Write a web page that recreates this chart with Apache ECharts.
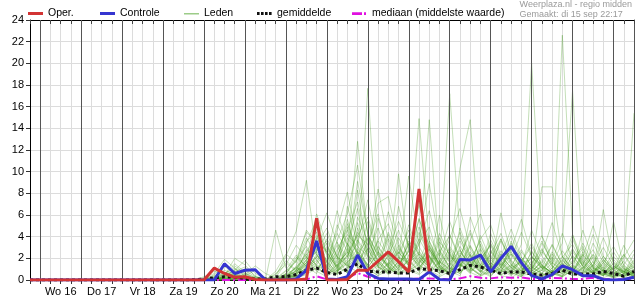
<!DOCTYPE html>
<html><head><meta charset="utf-8">
<script src="https://cdn.jsdelivr.net/npm/echarts/dist/echarts.min.js"></script>
<style>html,body{margin:0;padding:0;background:#fff}#c{width:635px;height:300px}</style>
</head><body><div id="c"></div>
<script>
// ---- data ----
const dayLabels = ["Wo 16","Do 17","Vr 18","Za 19","Zo 20","Ma 21","Di 22","Wo 23","Do 24","Vr 25","Za 26","Zo 27","Ma 28","Di 29"];
const dayLines = [0,24,48,72,96,120,144,168,192,216,240,264,288,312,336];
const yTicks = [0,2,4,6,8,10,12,14,16,18,20,22,24];
// hours since Wo 16 00:00
const times = [-6,0,6,12,18,24,30,36,42,48,54,60,66,72,78,84,90,96,102,108,114,120,126,132,138,144,150,156,162,168,174,180,186,192,198,204,210,216,222,228,234,240,246,252,258,264,270,276,282,288,294,300,306,312,318,324,330,336,342,348];
const oper = [0,0,0,0,0,0,0,0,0,0,0,0,0,0,0,0,0,0,1.1,0.6,0.25,0.3,0.05,0,0,0,0,0.1,5.7,0,0,0.05,0.9,0.9,1.75,2.6,1.7,0.75,8.4,0.8];
const controle = [0,0,0,0,0,0,0,0,0,0,0,0,0,0,0,0,0,0,0,1.5,0.6,0.9,0.95,0,0,0,0.1,0.9,3.6,0.1,0.05,0.3,2.3,0.6,0.15,0.1,0.1,0.1,0.05,0.75,0.05,0,1.9,1.85,2.3,0.75,2.0,3.1,1.6,0.4,0.1,0.5,1.3,0.95,0.4,0.4,0.05,0,0.05,0.25];
const gemiddelde = [0,0,0,0,0,0,0,0,0,0,0,0,0,0,0,0,0.02,0.1,0.2,0.3,0.25,0.15,0.1,0.1,0.3,0.3,0.5,0.9,1.1,0.7,0.5,1.0,1.5,0.8,0.75,0.75,0.65,0.65,1.05,0.95,0.85,0.6,0.95,1.35,1.2,0.9,0.6,0.75,0.75,0.55,0.45,0.6,0.9,0.55,0.55,0.55,0.8,0.6,0.35,0.8];
const mediaan = [0,0,0,0,0,0,0,0,0,0,0,0,0,0,0,0,0,0,0,0,0,0,0,0,0,0,0,0.05,0.35,0.05,0,0.2,0.65,0.3,0.1,0.1,0.05,0.05,0.15,0.15,0.1,0.05,0.15,0.35,0.2,0.15,0.25,0.2,0.25,0.1,0.1,0.2,0.15,0.1,0.1,0.2,0.1,0.05,0.05,0.1];
// ensemble members (Leden)
const memberTimes = [84,90,96,102,108,114,120,126,132,138,144,150,156,162,168,174,180,186,192,198,204,210,216,222,228,234,240,246,252,258,264,270,276,282,288,294,300,306,312,318,324,330,336,342,348];
const lid01 = [0,0, 0,0.3,1.2,0.8, 0.2,0,0,0.5, 1.8,0.9,2.4,3.1, 0.6,1.4,2.2,4.1, 3.3,1.2,0.8,2.6, 1.4,3.8,2.1,0.9, 1.6,2.8,1.1,0.4, 0.7,1.9,3.2,1.3, 0.5,0.9,2.4,1.2, 0.6,1.5,2.8,0.9, 0.3,0.8,1.4];
const lid02 = [0,0, 0.2,0.6,1.9,1.1, 0.4,0.1,0,0, 0.2,1.3,3.6,4.4, 1.2,0.5,6.8,3.2, 1.1,0.4,1.6,0.8, 2.9,14.9,3.4,1.2, 0.6,1.4,0.9,2.3, 1.1,0.4,0.2,0.8, 2.1,1.4,0.6,0.3, 0.9,1.7,0.5,0.2, 0.6,1.1,0.4];
const lid03 = [0,0.1, 0,0,0.4,2.0, 1.4,0.3,0,4.6, 1.1,0.3,1.2,2.1, 3.4,0.9,2.8,12.8, 4.1,1.3,0.5,1.1, 3.6,2.4,14.8,2.1, 0.8,3.1,1.6,0.7, 1.9,3.8,1.4,0.5, 0.9,3.4,1.8,0.8, 2.2,0.9,0.4,1.6, 0.7,0.3,0.9];
const lid04 = [0,0, 0,0,0.2,0.6, 0.3,0,0,0.3, 2.2,4.5,9.2,2.4, 1.1,2.8,4.6,2.2, 17.7,3.1,1.4,0.6, 1.3,4.4,2.2,0.8, 2.4,1.3,3.2,1.4, 0.6,2.1,1.2,0.4, 1.8,0.6,0.3,1.1, 2.6,1.3,0.7,0.4, 1.2,0.8,0.3];
const lid05 = [0,0, 0.1,0.4,0.9,0.5, 0.1,0,0,0, 0.4,0.8,1.6,5.2, 2.3,0.8,1.5,8.3, 2.6,7.1,7.7,3.4, 1.2,0.6,2.8,1.5, 17.2,4.2,1.1,0.5, 1.3,0.8,2.4,1.6, 0.7,8.6,8.6,2.1, 0.9,0.4,1.3,0.6, 0.2,0.5,1.0];
const lid06 = [0,0, 0,0.2,0.5,1.5, 0.7,0.2,0,0, 0,0.6,2.8,1.9, 0.4,1.7,3.9,2.5, 1.4,3.6,2.2,0.9, 4.1,2.7,1.3,6.0, 1.8,10.3,14.8,2.6, 0.9,6.2,2.3,1.1, 0.6,1.2,0.8,1.9, 0.7,0.3,0.9,1.4, 0.6,0.2,0.7];
const lid07 = [0,0, 0,0,0.1,0.3, 0.2,0,0,0, 0.5,1.1,0.7,3.3, 4.8,2.1,0.6,1.8, 5.4,2.4,1.1,0.5, 2.2,1.4,0.7,2.5, 1.1,0.6,1.8,3.6, 1.4,0.7,1.1,3.3, 20.0,4.1,1.3,0.8, 0.4,1.1,2.3,0.8, 0.4,0.9,0.3];
const lid08 = [0,0, 0.3,0.8,0.6,0.2, 0,0,0,0.2, 1.6,0.8,1.9,2.6, 1.3,3.2,1.1,2.4, 3.9,1.7,0.6,1.8, 9.6,3.1,1.4,0.6, 1.3,2.7,1.2,0.5, 0.8,1.6,0.7,0.3, 1.4,0.9,0.5,22.6, 4.2,1.1,0.6,1.8, 0.9,0.4,0.6];
const lid09 = [0,0, 0,0,0,0.1, 0.4,0.9,0.2,0, 0.3,0.6,2.2,1.4, 0.9,2.3,4.2,3.1, 2.2,1.6,0.9,2.1, 1.6,3.4,4.9,1.7, 0.6,2.1,4.6,1.8, 0.7,2.7,1.4,0.8, 1.1,2.6,1.5,3.4, 17.5,2.1,0.9,0.5, 1.3,0.7,0.4];
const lid10 = [0,0, 0,0.1,0.7,0.4, 0.1,0,0,0, 0.1,0.5,1.4,3.9, 2.6,1.1,0.7,5.8, 3.6,1.9,0.8,1.4, 3.3,1.9,0.8,1.2, 2.6,1.4,0.6,1.9, 3.2,1.1,0.5,0.9, 2.2,1.1,0.4,0.8, 1.6,2.9,1.2,0.6, 0.3,1.8,15.4];
const lid11 = [0,0, 0,0.5,1.4,0.6, 0.2,0,0,0.1, 0.9,2.3,1.2,0.6, 2.9,1.3,2.1,4.4, 2.8,1.3,4.2,1.8, 0.7,1.6,3.2,1.4, 0.5,1.1,2.3,1.1, 2.8,1.4,0.6,1.2, 0.5,0.9,2.1,1.1, 3.8,1.6,0.7,6.5, 1.4,0.6,0.2];
const lid12 = [0,0, 0,0,0.3,1.0, 0.5,0.1,0,0, 0.2,0.4,1.1,2.2, 1.6,4.3,2.7,1.5, 3.4,6.1,2.4,0.9, 1.8,2.6,1.1,3.9, 1.6,0.7,1.4,2.9, 1.3,0.6,3.6,1.4, 0.6,1.3,0.7,1.8, 0.9,4.6,1.9,0.8, 5.4,1.2,0.5];
const lid13 = [0,0, 0,0,0,0, 0.1,0.3,0,0, 0.6,1.8,3.1,1.2, 0.5,1.1,3.3,6.6, 2.1,0.8,1.5,9.8, 2.6,1.1,2.3,0.9, 3.1,1.6,0.8,1.4, 0.6,1.7,4.1,1.8, 0.7,0.4,1.1,2.2, 1.0,0.5,1.4,0.8, 0.3,0.6,1.2];
const lid14 = [0,0, 0,0.2,0.4,0.8, 1.2,0.4,0,0, 0,0.3,0.9,1.6, 3.8,2.2,1.3,2.6, 1.4,3.1,1.8,0.6, 1.2,7.3,2.8,1.1, 0.5,4.8,2.3,0.9, 0.4,1.2,2.6,1.1, 0.6,1.9,0.8,0.4, 1.3,0.7,3.4,1.6, 0.7,0.3,0.8];
const lid15 = [0,0, 0,0,0.2,0.3, 0.1,0,0,0, 0.1,0.2,0.8,1.1, 0.6,0.9,1.7,2.3, 1.2,0.6,2.4,1.3, 0.8,1.9,0.9,0.4, 1.2,0.8,1.6,0.7, 2.1,0.9,0.4,1.1, 0.5,0.3,0.9,0.6, 1.4,0.8,0.4,0.9, 0.5,2.4,1.1];
const lid16 = [0,0, 0.1,0.2,0.1,0, 0,0,0,0.8, 2.4,1.6,4.6,3.4, 1.7,0.6,2.4,9.1, 4.3,2.2,1.1,3.2, 1.5,4.9,2.1,0.7, 1.4,3.6,1.9,0.8, 1.6,0.7,1.3,2.8, 1.2,0.5,2.6,1.2, 0.6,2.4,1.1,0.4, 1.6,0.8,0.3];
const lid17 = [0,0, 0,0,0.6,1.1, 0.3,0,0,0, 0,0.1,0.6,2.1, 1.0,3.5,1.4,0.7, 2.9,1.2,0.6,1.7, 5.1,2.3,0.9,1.6, 4.2,2.1,0.8,3.3, 1.2,0.5,0.8,1.7, 3.4,1.3,0.6,1.1, 0.5,1.2,0.6,2.2, 0.9,0.4,0.7];
const lid18 = [0,0, 0,0.1,0.2,0.1, 0,0,0,0, 0.4,0.7,1.8,0.9, 2.2,6.4,3.1,1.2, 0.6,1.4,3.8,2.1, 0.9,0.5,1.3,2.8, 1.1,0.6,1.9,0.8, 3.7,1.8,0.7,0.3, 1.2,0.6,1.6,0.9, 0.4,1.1,2.1,0.9, 0.4,1.0,0.5];
const lid19 = [0,0, 0,0,0,0.2, 0.6,0.2,0,0, 0.1,0.9,2.6,4.1, 1.6,0.8,1.9,3.4, 7.4,2.6,1.2,0.7, 1.9,0.8,3.6,1.4, 0.6,1.8,0.9,4.1, 1.9,0.8,1.4,0.6, 2.7,1.1,0.5,1.6, 4.2,1.8,0.8,1.2, 0.6,0.3,1.8];
const lid20 = [0,0, 0,0.3,0.7,0.4, 0.1,0,0,0.2, 0.5,0.3,1.2,1.8, 0.7,1.9,5.6,2.2, 1.1,2.6,1.2,0.5, 1.1,2.4,1.3,0.6, 2.2,1.1,3.1,1.4, 0.7,2.4,1.1,0.5, 0.8,1.7,0.8,0.3, 0.9,1.9,0.8,0.4, 1.1,0.6,0.2];
const lid21 = [0,0, 0,0,0.1,0.2, 0,0,0,0, 0.2,0.6,1.6,2.9, 1.4,0.6,3.4,1.6, 0.9,1.8,0.9,2.9, 1.4,5.7,2.6,1.1, 0.6,1.5,0.7,2.1, 0.9,3.8,1.6,0.6, 1.3,0.6,0.3,1.4, 0.7,0.3,0.8,0.4, 1.9,0.8,0.4];
const lid22 = [0,0, 0,0,0,0, 0,0,0,0, 0,0.2,0.5,1.1, 0.4,0.8,1.6,2.9, 1.4,0.6,1.1,0.5, 0.9,1.4,0.6,0.3, 0.8,1.5,0.7,0.3, 1.1,0.5,0.9,0.4, 0.6,0.3,0.7,0.4, 0.9,0.5,0.2,0.6, 0.3,0.8,0.4];
const lid23 = [0,0, 0,0,0.3,0.9, 1.8,0.6,0.1,0, 0.3,1.2,0.6,1.4, 3.1,1.3,0.7,4.8, 2.1,0.9,2.2,4.6, 1.8,0.8,2.9,1.2, 0.6,2.3,1.1,0.4, 2.6,1.2,0.5,1.9, 0.8,2.8,1.3,0.5, 1.1,0.6,1.7,0.7, 0.3,1.3,0.6];
const lid24 = [0,0, 0,0,0,0, 0,0,0,0, 0.4,1.2,2.1,0.8, 0.3,1.4,2.6,1.1, 3.8,1.6,0.6,1.3, 2.7,1.2,0.5,1.8, 0.8,0.4,2.4,1.2, 0.5,1.1,2.9,1.3, 0.5,1.4,0.6,0.3, 2.3,1.0,0.4,0.9, 2.6,1.1,0.5];
const lid25 = [0,0, 0,0.1,0.3,0.5, 0.2,0,0,0, 0.1,0.3,0.7,2.4, 1.1,0.5,1.2,2.1, 1.0,0.4,0.9,1.6, 0.7,1.2,2.2,0.9, 0.4,0.8,1.7,0.8, 0.3,1.5,0.7,2.1, 0.9,0.4,0.8,1.5, 0.7,0.3,1.1,0.5, 0.2,0.6,1.3];
const lid26 = [0,0, 0,0,0.2,0.7, 0.9,0.3,0,0, 0.3,0.9,3.4,5.6, 2.4,1.2,4.6,7.2, 3.1,1.8,4.4,2.2, 1.3,3.3,6.4,2.7, 1.2,3.9,2.1,1.0, 2.4,4.3,1.8,0.9, 1.5,2.9,1.2,0.6, 1.8,3.1,1.2,0.5, 1.1,2.3,0.9];
const lid27 = [0,0, 0,0,0,0.1, 0.2,0.1,0,0, 0.6,2.1,1.3,3.8, 6.2,3.4,2.1,5.3, 2.4,4.8,1.9,1.1, 3.4,1.6,4.1,2.2, 5.4,2.8,1.3,2.5, 1.1,2.2,4.7,2.1, 0.8,1.6,3.2,1.4, 0.7,2.6,1.3,3.9, 1.7,0.7,1.6];
const lid28 = [0,0, 0,0.2,0.6,0.3, 0,0,0,0.6, 1.4,3.2,2.1,1.1, 1.9,4.6,8.1,3.6, 1.8,3.7,5.2,2.4, 4.6,2.1,1.2,3.5, 2.4,1.2,5.8,3.1, 1.6,0.9,1.9,4.4, 2.1,1.0,1.8,4.3, 1.9,0.8,2.4,1.1, 0.5,1.4,2.8];
const lid29 = [0,0, 0,0,0.1,0.4, 0.3,0,0,0, 0.1,0.4,1.9,6.1, 3.2,1.6,2.5,4.1, 5.8,2.7,1.3,3.9, 2.2,5.6,3.1,1.4, 3.8,6.6,2.9,1.3, 3.4,1.7,0.8,2.6, 1.3,3.6,1.6,0.7, 2.8,1.3,4.2,1.9, 0.9,2.1,3.7];
const lid30 = [0,0, 0,0.1,0.3,0.2, 0,0,0,0.1, 0.8,1.7,3.9,2.3, 1.2,5.1,3.3,2.0, 4.1,2.4,6.3,3.0, 1.6,2.4,1.4,4.3, 2.3,1.1,3.6,6.1, 2.7,1.3,2.4,1.2, 4.6,2.2,1.0,2.7, 1.4,3.4,1.6,0.8, 2.2,1.0,0.6];
const lid31 = [0,0, 0,0,0,0, 0.5,1.3,0.6,0.2, 0,0.5,1.6,2.6, 4.3,2.1,1.3,3.7, 2.3,1.1,2.8,5.4, 3.2,1.5,2.9,1.3, 0.7,2.5,1.6,3.8, 5.1,2.2,1.1,1.7, 3.1,1.4,0.6,2.1, 3.3,1.5,0.7,1.9, 0.8,3.2,1.4];
const lid32 = [0,0, 0,0,0.4,1.3, 0.6,0.1,0,0, 0.2,1.1,2.4,1.3, 0.8,2.6,4.9,2.4, 1.3,5.7,3.1,1.5, 2.6,6.9,3.6,1.7, 1.0,2.2,4.3,1.9, 3.3,1.4,2.8,5.6, 2.2,1.1,3.3,1.5, 0.8,2.1,5.0,2.2, 1.0,1.7,0.8];
const lid33 = [0,0, 0,0,0,0, 0,0,0,0, 0.3,0.8,1.4,3.1, 1.7,3.6,6.1,10.6, 4.1,2.2,1.4,2.6, 1.3,3.8,8.9,3.2, 1.6,4.4,2.2,1.1, 2.3,1.1,3.4,1.6, 1.9,4.1,2.0,0.9, 1.2,0.6,1.4,3.0, 1.3,0.6,2.4];
const lid34 = [0,0, 0,0,0.1,0.2, 0.1,0,0,0, 0.5,1.9,4.4,3.6, 2.6,1.1,2.9,1.7, 2.9,8.4,3.6,1.6, 0.9,2.1,1.2,2.6, 4.1,1.9,1.0,2.8, 1.3,3.6,1.7,0.8, 2.6,1.2,0.6,1.3, 2.9,1.3,0.6,1.6, 3.1,1.4,0.6];
const lid35 = [0,0, 0,0,0,0.1, 0.1,0,0,0, 0.2,0.6,1.3,2.8, 3.6,1.9,5.2,2.6, 1.2,2.4,1.2,6.8, 2.9,1.4,3.1,1.5, 2.9,1.3,2.6,1.2, 4.3,2.0,0.9,1.9, 1.0,2.4,5.3,2.2, 1.0,2.3,1.1,0.6, 1.5,0.7,1.9];
const leden = [lid01,lid02,lid03,lid04,lid05,lid06,lid07,lid08,lid09,lid10,lid11,lid12,lid13,lid14,lid15,lid16,lid17,lid18,lid19,lid20,lid21,lid22,lid23,lid24,lid25,lid26,lid27,lid28,lid29,lid30,lid31,lid32,lid33,lid34,lid35];
const legendNames = ["Oper.","Controle","Leden","gemiddelde","mediaan (middelste waarde)"];
const headerTitle = "Weerplaza.nl - regio midden";
const headerSub = "Gemaakt: di 15 sep 22:17";

// ---- chart ----
const FONT = '"Liberation Sans", Arial, sans-serif';
const pairs = (ts, vs) => vs.map((v, i) => [ts[i], v]);
const chart = echarts.init(document.getElementById('c'), null, {renderer: 'canvas'});

const C_OPER = '#d23434', C_CTRL = '#3535d0', C_LID = 'rgba(60,150,20,0.30)', C_MEAN = '#111', C_MED = '#e010e0';
// legend icons: 15x11 box (tiny corner marks fix the bounding box)
const BOX = 'M0,0h0.01v0.01h-0.01z M14.99,10.99h0.01v0.01h-0.01z ';
const ICON_THICK = 'path://' + BOX + 'M0,4h15v3h-15z';
const ICON_THIN = 'path://' + BOX + 'M0,5h15v1.4h-15z';
const ICON_DOTS = 'path://' + BOX + 'M0,4h2.6v3h-2.6z M4,4h2.6v3h-2.6z M8,4h2.6v3h-2.6z M12,4h2.6v3h-2.6z';
const ICON_DASHDOT = 'path://' + BOX + 'M0,4.3h10v2.6h-10z M12,4.3h2v2.6h-2z';

const series = [];
series.push({
  type: 'line', name: '_dagen', data: [[times[0], 0]], symbol: 'none', silent: true, z: 1,
  lineStyle: {width: 0}, animation: false,
  markLine: {silent: true, symbol: ['none', 'none'], label: {show: false}, animation: false,
    lineStyle: {color: '#555', width: 1, type: 'solid'},
    emphasis: {disabled: true},
    data: dayLines.map(t => ({xAxis: t}))}
});
leden.forEach(m => series.push({
  type: 'line', name: legendNames[2], data: pairs(memberTimes, m), symbol: 'none', silent: true, z: 2,
  lineStyle: {color: C_LID, width: 1}, itemStyle: {color: '#9ccc88'}
}));
series.push({type: 'line', name: legendNames[4], data: pairs(times, mediaan), symbol: 'none', z: 3,
  lineStyle: {color: C_MED, width: 2, type: [8, 3, 2, 3]}, itemStyle: {color: C_MED}});
series.push({type: 'line', name: legendNames[3], data: pairs(times, gemiddelde), symbol: 'none', z: 4,
  lineStyle: {color: C_MEAN, width: 3, type: 'dotted'}, itemStyle: {color: C_MEAN}});
series.push({type: 'line', name: legendNames[1], data: pairs(times, controle), symbol: 'none', z: 5,
  lineStyle: {color: C_CTRL, width: 3}, itemStyle: {color: C_CTRL}});
series.push({type: 'line', name: legendNames[0], data: pairs(times, oper), symbol: 'none', z: 6,
  lineStyle: {color: C_OPER, width: 3}, itemStyle: {color: C_OPER}});

const legendLefts = [28, 100, 184, 257, 352];
const legendIcons = [ICON_THICK, ICON_THICK, ICON_THIN, ICON_DOTS, ICON_DASHDOT];
const legendColors = [C_OPER, C_CTRL, '#9ccc88', C_MEAN, C_MED];
const legends = legendNames.map((n, i) => ({
  left: legendLefts[i], top: 8, padding: 0, itemWidth: 15, itemHeight: 11, selectedMode: false,
  textStyle: {fontSize: 10.5, color: '#000', fontFamily: FONT},
  data: [{name: n, icon: legendIcons[i], itemStyle: {color: legendColors[i], opacity: 1}}]
}));

const axisCommon = {min: times[0], max: times[times.length - 1], interval: 6};
chart.setOption({
  animation: false,
  textStyle: {fontFamily: FONT},
  title: {text: headerTitle, subtext: headerSub, right: 3, top: 0, padding: 0, itemGap: 1.5,
    textStyle: {fontSize: 9, color: '#9a9a9a', fontWeight: 'normal', fontFamily: FONT},
    subtextStyle: {fontSize: 9, color: '#9a9a9a', fontFamily: FONT}},
  legend: legends,
  grid: {left: 30, right: 1, top: 20, bottom: 20, containLabel: false, outerBoundsMode: 'none'},
  xAxis: [
    Object.assign({type: 'value', position: 'bottom',
      axisLine: {show: true, onZero: false, lineStyle: {color: '#000', width: 1}},
      axisTick: {show: true, length: 4, lineStyle: {color: '#333'}},
      splitLine: {show: true, lineStyle: {color: '#dcdcdc', width: 1}},
      axisLabel: {show: true, margin: 6, fontSize: 11, color: '#000', fontFamily: FONT,
        formatter: v => { const k = (v - 12) / 24; return (Number.isInteger(k) && k >= 0 && k < dayLabels.length) ? dayLabels[k] : ''; }}
    }, axisCommon),
    Object.assign({type: 'value', position: 'top',
      axisLine: {show: true, onZero: false, lineStyle: {color: '#000', width: 1}},
      axisTick: {show: true, inside: true, length: 4, lineStyle: {color: '#444'}},
      splitLine: {show: false}, axisLabel: {show: false}
    }, axisCommon)
  ],
  yAxis: [
    {type: 'value', min: yTicks[0], max: yTicks[yTicks.length - 1], interval: yTicks[1] - yTicks[0],
      axisLine: {show: true, onZero: false, lineStyle: {color: '#000', width: 1}},
      axisTick: {show: true, length: 4, lineStyle: {color: '#333'}},
      splitLine: {show: true, lineStyle: {color: '#dcdcdc', width: 1}},
      axisLabel: {show: true, margin: 6, fontSize: 11, color: '#000', fontFamily: FONT}},
    {type: 'value', position: 'right', min: yTicks[0], max: yTicks[yTicks.length - 1], interval: yTicks[1] - yTicks[0],
      axisLine: {show: true, onZero: false, lineStyle: {color: '#555', width: 1}},
      axisTick: {show: false}, splitLine: {show: false}, axisLabel: {show: false}}
  ],
  series: series
});
</script>
</body></html>
